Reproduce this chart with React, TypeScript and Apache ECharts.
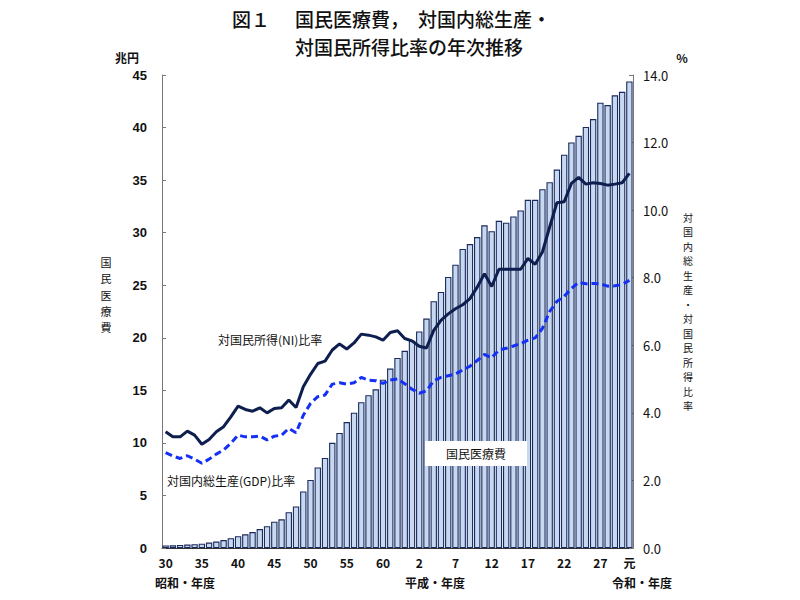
import React, { useEffect, useRef } from "react";
import * as echarts from "echarts";

const categories = [
  "S30","S31","S32","S33","S34","S35","S36","S37","S38","S39",
  "S40","S41","S42","S43","S44","S45","S46","S47","S48","S49",
  "S50","S51","S52","S53","S54","S55","S56","S57","S58","S59",
  "S60","S61","S62","S63",
  "H1","H2","H3","H4","H5","H6","H7","H8","H9","H10",
  "H11","H12","H13","H14","H15","H16","H17","H18","H19","H20",
  "H21","H22","H23","H24","H25","H26","H27","H28","H29","H30",
  "R1",
];

const labelIndices = [0, 5, 10, 15, 20, 25, 30, 35, 40, 45, 50, 55, 60, 64];

// 国民医療費 (兆円)
const medicalCost = [
  0.2388, 0.2583, 0.2897, 0.323, 0.3625, 0.4095, 0.513, 0.6132, 0.7541, 0.9389,
  1.1224, 1.3002, 1.5116, 1.8016, 2.078, 2.4962, 2.725, 3.3994, 3.9496, 5.3786,
  6.4779, 7.6684, 8.5686, 10.0042, 10.951, 11.9805, 12.8709, 13.8659, 14.5438, 15.0932,
  16.0159, 17.069, 18.0759, 18.7554,
  19.729, 20.6074, 21.826, 23.4784, 24.3631, 25.7908, 26.9577, 28.4542, 28.9149, 29.5823,
  30.7019, 30.1418, 31.1234, 30.9507, 31.5375, 32.1111, 33.1289, 33.1276, 34.136, 34.8084,
  36.0067, 37.4202, 38.585, 39.2117, 40.061, 40.8071, 42.3644, 42.1381, 43.071, 43.3949,
  44.3895,
];

// 対国民所得比率 (%)
const niRatio = [
  3.44, 3.29, 3.29, 3.46, 3.34, 3.07, 3.21, 3.44, 3.59, 3.88,
  4.2, 4.1, 4.05, 4.15, 4.0, 4.13, 4.15, 4.38, 4.16, 4.77,
  5.14, 5.46, 5.53, 5.86, 6.04, 5.89, 6.07, 6.33, 6.3, 6.25,
  6.15, 6.38, 6.43, 6.2,
  6.13, 5.97, 5.92, 6.44, 6.74, 6.93, 7.08, 7.2, 7.38, 7.72,
  8.12, 7.74, 8.25, 8.25, 8.25, 8.25, 8.57, 8.4, 8.76, 9.5,
  10.22, 10.25, 10.79, 10.97, 10.77, 10.81, 10.79, 10.74, 10.77, 10.81,
  11.09,
];

// 対国内総生産比率 (%)
const gdpRatio = [
  2.82, 2.72, 2.65, 2.73, 2.63, 2.51, 2.63, 2.78, 2.9, 3.1,
  3.34, 3.29, 3.29, 3.31, 3.2, 3.31, 3.34, 3.54, 3.41, 3.93,
  4.28, 4.48, 4.53, 4.85, 4.89, 4.85, 4.89, 5.05, 4.97, 4.95,
  4.87, 4.97, 5.0, 4.86,
  4.7, 4.58, 4.65, 4.95, 5.05, 5.1, 5.15, 5.27, 5.38, 5.55,
  5.73, 5.63, 5.86, 5.91, 5.98, 6.05, 6.15, 6.22, 6.5, 7.0,
  7.3, 7.45, 7.68, 7.86, 7.82, 7.83, 7.82, 7.75, 7.76, 7.8,
  7.92,
];

const leftTitle = "国民医療費";
const rightTitle = "対国内総生産・対国民所得比率";

const FONT = '"Noto Sans CJK JP", "Noto Sans", sans-serif';

function verticalText(text: string, x: number, y0: number, step: number, size: number) {
  return Array.from(text).map((ch, i) => ({
    type: "text",
    x,
    y: y0 + i * step,
    style: {
      text: ch,
      font: `${size}px ${FONT}`,
      lineHeight: size,
      fill: "#111",
      align: "center",
      verticalAlign: "middle",
    },
  }));
}

export default function App() {
  const ref = useRef<HTMLDivElement>(null);
  useEffect(() => {
    if (!ref.current) return;
    const chart = echarts.init(ref.current, undefined, { renderer: "svg" });
    const titleStyle = { font: `500 19px ${FONT}`, lineHeight: 19, fill: "#111", verticalAlign: "middle" };
    const option: any = {
      animation: false,
      backgroundColor: "#ffffff",
      textStyle: { fontFamily: FONT },
      grid: { left: 162, right: 167, top: 75, bottom: 52 },
      xAxis: {
        type: "category",
        data: categories,
        boundaryGap: true,
        axisLine: { show: true, lineStyle: { color: "#333", width: 1 } },
        axisTick: { show: false },
        axisLabel: {
          interval: (i: number) => labelIndices.includes(i),
          formatter: (v: string) => (v === "H1" || v === "R1" ? "元" : v.replace(/^[SHR]/, "")),
          color: "#111",
          fontSize: 12,
          fontWeight: "bold",
          fontFamily: FONT,
          margin: 8,
        },
      },
      yAxis: [
        {
          type: "value",
          min: 0,
          max: 45,
          interval: 5,
          position: "left",
          axisLine: { show: true, lineStyle: { color: "#777", width: 1 } },
          axisTick: { show: true, inside: true, length: 4, lineStyle: { color: "#777" } },
          splitLine: { show: false },
          axisLabel: {
            color: "#111",
            fontSize: 13,
            fontWeight: "bold",
            fontFamily: '"Liberation Sans", Arial, sans-serif',
            margin: 15,
          },
        },
        {
          type: "value",
          min: 0,
          max: 14,
          interval: 2,
          position: "right",
          axisLine: { show: true, lineStyle: { color: "#777", width: 1 } },
          axisTick: { show: true, inside: true, length: 4, lineStyle: { color: "#777" } },
          splitLine: { show: false },
          axisLabel: {
            color: "#111",
            fontSize: 13,
            fontFamily: FONT,
            margin: 10,
            formatter: (v: number) => v.toFixed(1),
          },
        },
      ],
      series: [
        {
          type: "bar",
          name: "国民医療費",
          data: medicalCost,
          yAxisIndex: 0,
          barCategoryGap: "12%",
          itemStyle: { color: "#c6d9f1", borderColor: "#1b2a5c", borderWidth: 1.1 },
          z: 2,
        },
        {
          type: "line",
          name: "対国民所得(NI)比率",
          data: niRatio,
          yAxisIndex: 1,
          showSymbol: false,
          symbol: "none",
          lineStyle: { color: "#0e1f4f", width: 3 },
          z: 5,
        },
        {
          type: "line",
          name: "対国内総生産(GDP)比率",
          data: gdpRatio,
          yAxisIndex: 1,
          showSymbol: false,
          symbol: "none",
          lineStyle: { color: "#1530f5", width: 3, type: [7, 4] },
          z: 5,
        },
      ],
      graphic: [
        { type: "text", x: 232, y: 18, style: { ...titleStyle, text: "図１" } },
        { type: "text", x: 295, y: 18, style: { ...titleStyle, text: "国民医療費，" } },
        { type: "text", x: 418, y: 18, style: { ...titleStyle, text: "対国内総生産・" } },
        { type: "text", x: 295, y: 46, style: { ...titleStyle, text: "対国民所得比率の年次推移" } },
        { type: "text", x: 127, y: 57, style: { text: "兆円", font: `bold 12px ${FONT}`, fill: "#111", align: "center", verticalAlign: "middle" } },
        { type: "text", x: 682, y: 57, style: { text: "%", font: `bold 12px ${FONT}`, fill: "#111", align: "center", verticalAlign: "middle" } },
        ...verticalText(leftTitle, 106, 262, 16.3, 11),
        ...verticalText(rightTitle, 688, 217, 14.5, 10),
        { type: "text", x: 218, y: 339, style: { text: "対国民所得(NI)比率", font: `12px ${FONT}`, fill: "#111", verticalAlign: "middle" } },
        { type: "text", x: 167, y: 480, style: { text: "対国内総生産(GDP)比率", font: `12px ${FONT}`, fill: "#111", verticalAlign: "middle" } },
        {
          type: "rect",
          shape: { x: 425, y: 441, width: 102, height: 25 },
          style: { fill: "#ffffff" },
          z: 100,
        },
        { type: "text", x: 476, y: 453.5, z: 101, style: { text: "国民医療費", font: `12px ${FONT}`, fill: "#111", align: "center", verticalAlign: "middle" } },
        { type: "text", x: 155, y: 582, style: { text: "昭和・年度", font: `bold 12px ${FONT}`, fill: "#111", verticalAlign: "middle" } },
        { type: "text", x: 405, y: 582, style: { text: "平成・年度", font: `bold 12px ${FONT}`, fill: "#111", verticalAlign: "middle" } },
        { type: "text", x: 612, y: 582, style: { text: "令和・年度", font: `bold 12px ${FONT}`, fill: "#111", verticalAlign: "middle" } },
      ],
    };
    chart.setOption(option);
    return () => chart.dispose();
  }, []);
  return <div ref={ref} style={{ position: "fixed", left: 0, top: 0, width: 800, height: 600 }} />;
}
